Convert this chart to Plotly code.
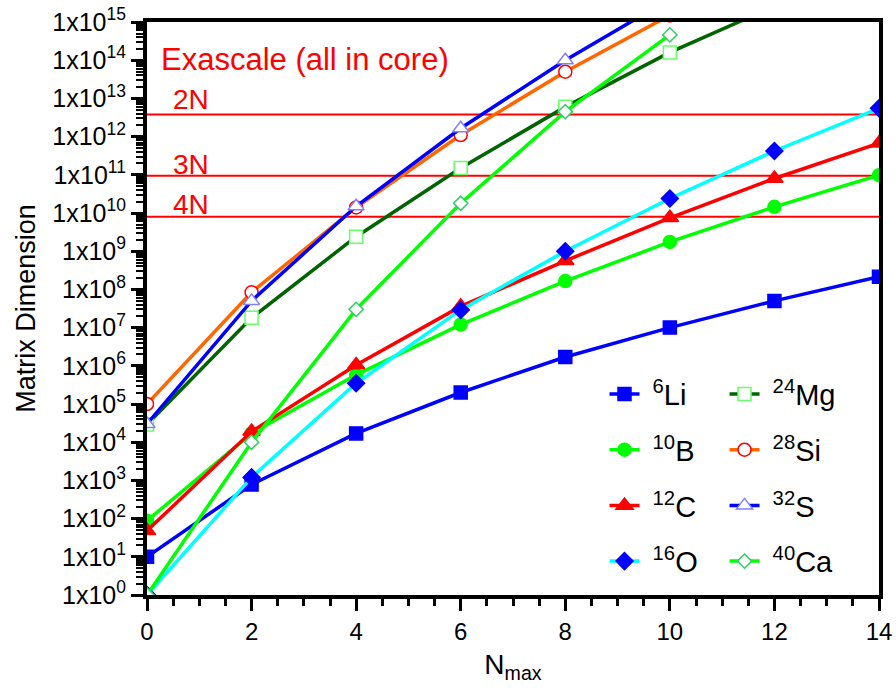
import math
import plotly.graph_objects as go

# ---------------- data ----------------
nmax = [0, 2, 4, 6, 8, 10, 12, 14]

li6 = [10, 780, 1.7e4, 2.0e5, 1.7e6, 1.0e7, 5.0e7, 2.15e8]
b10 = [88, 1.7e4, 5.8e5, 1.2e7, 1.65e8, 1.75e9, 1.45e10, 9.8e10]
c12 = [48, 1.9e4, 1.05e6, 3.6e7, 5.6e8, 7.5e9, 8.0e10, 6.7e11]
o16 = [1, 1.2e3, 3.5e5, 2.9e7, 1.0e9, 2.4e10, 4.2e11, 5.5e12]
mg24 = [2.9e4, 1.8e7, 2.4e9, 1.5e11, 6.0e12, 1.6e14, 2.6e15]
si28 = [1.0e5, 8.4e7, 1.4e10, 1.1e12, 5.0e13, 1.5e15]
s32 = [3.0e4, 5.0e7, 1.5e10, 1.65e12, 1.0e14, 4.0e15]
ca40 = [1, 1.0e4, 3.0e7, 1.8e10, 4.5e12, 4.6e14]

limit_labels = ["2N", "3N", "4N"]
limit_values = [3.8e12, 9.5e10, 8.0e9]
exascale_label = "Exascale (all in core)"

ytick_exponents = list(range(0, 16))
xtick_vals = [0, 2, 4, 6, 8, 10, 12, 14]

# ---------------- styles ----------------
FONT = "Liberation Sans, Arial, Helvetica, sans-serif"
NBSP = "\u00a0"
series = [
    # name, y, line colour, symbol, fill, outline, size, legend
    ("<sup>6</sup>Li", li6, "#0000FF", "square", "#0000FF", "#0000FF", 13, "legend"),
    ("<sup>10</sup>B", b10, "#00FF00", "circle", "#00FF00", "#00FF00", 13, "legend"),
    ("<sup>12</sup>C", c12, "#FF0000", "triangle-up", "#FF0000", "#FF0000", 15, "legend"),
    ("<sup>16</sup>O", o16, "#00FFFF", "diamond", "#0000FF", "#0000FF", 13, "legend"),
    ("<sup>24</sup>Mg", mg24, "#006400", "square", "white", "#66FF66", 13, "legend2"),
    ("<sup>28</sup>Si", si28, "#FF6600", "circle", "white", "#FF0000", 13, "legend2"),
    ("<sup>32</sup>S", s32, "#0000FF", "triangle-up", "white", "#8080FF", 14, "legend2"),
    ("<sup>40</sup>Ca", ca40, "#00FF00", "diamond", "white", "#33CC66", 11, "legend2"),
]

fig = go.Figure()

# exascale limit lines
for lab, val in zip(limit_labels, limit_values):
    fig.add_trace(go.Scatter(
        x=[nmax[0], nmax[-1]], y=[val, val], mode="lines",
        line=dict(color="#FF0000", width=2), showlegend=False, hoverinfo="skip"))

for i, (name, ys, lc, sym, fill, outl, size, leg) in enumerate(series):
    fig.add_trace(go.Scatter(
        x=nmax[:len(ys)], y=ys, mode="lines+markers", name=NBSP + name,
        line=dict(color=lc, width=3.5),
        marker=dict(symbol=sym, size=size, color=fill,
                    line=dict(color=outl, width=1.5)),
        legend=leg, legendgroup=f"g{i}"))

# annotations
fig.add_annotation(x=0.22, y=14.03, xref="x", yref="y", text=exascale_label,
                   showarrow=False, xanchor="left", yanchor="middle",
                   font=dict(family=FONT, size=31, color="#FF0000"))
label_y = [12.96, 11.26, 10.21]
for lab, ly in zip(limit_labels, label_y):
    fig.add_annotation(x=0.46, y=ly, xref="x", yref="y", text=lab,
                       showarrow=False, xanchor="left", yanchor="middle",
                       font=dict(family=FONT, size=28, color="#FF0000"))

minor_y = [m * 10 ** k for k in range(0, 15) for m in range(2, 10)]

fig.update_layout(
    width=896, height=690,
    margin=dict(l=147, r=17, t=22, b=95),
    plot_bgcolor="white", paper_bgcolor="white",
    font=dict(family=FONT, color="black"),
    xaxis=dict(
        range=[0, 14], showgrid=False, zeroline=False, automargin=False,
        showline=True, linecolor="black", linewidth=4, mirror=True,
        ticks="outside", ticklen=12, tickwidth=3, tickcolor="black",
        tickvals=xtick_vals, ticktext=[str(v) for v in xtick_vals],
        tickfont=dict(family=FONT, size=24),
        minor=dict(dtick=0.5, ticks="outside", ticklen=7, tickwidth=3,
                   tickcolor="black", showgrid=False),
        title=dict(text="N<sub>max</sub>", font=dict(family=FONT, size=28), standoff=12),
    ),
    yaxis=dict(
        type="log", range=[0, 15], showgrid=False, zeroline=False, automargin=False,
        showline=True, linecolor="black", linewidth=4, mirror=True,
        ticks="outside", ticklen=12, tickwidth=3, tickcolor="black",
        tickvals=[10 ** e for e in ytick_exponents],
        ticktext=[f"1x10<sup>{e}</sup>" for e in ytick_exponents],
        tickfont=dict(family=FONT, size=25),
        minor=dict(tickvals=minor_y, ticks="outside", ticklen=7, tickwidth=2,
                   tickcolor="black", showgrid=False),
        title=dict(text="Matrix Dimension", font=dict(family=FONT, size=27), standoff=10),
    ),
    legend=dict(x=0.625, y=0.395, xanchor="left", yanchor="top",
                bgcolor="rgba(0,0,0,0)", font=dict(family=FONT, size=29),
                tracegroupgap=15, itemwidth=30),
    legend2=dict(x=0.789, y=0.395, xanchor="left", yanchor="top",
                 bgcolor="rgba(0,0,0,0)", font=dict(family=FONT, size=29),
                 tracegroupgap=15, itemwidth=30),
)

fig.write_html("out.html")
